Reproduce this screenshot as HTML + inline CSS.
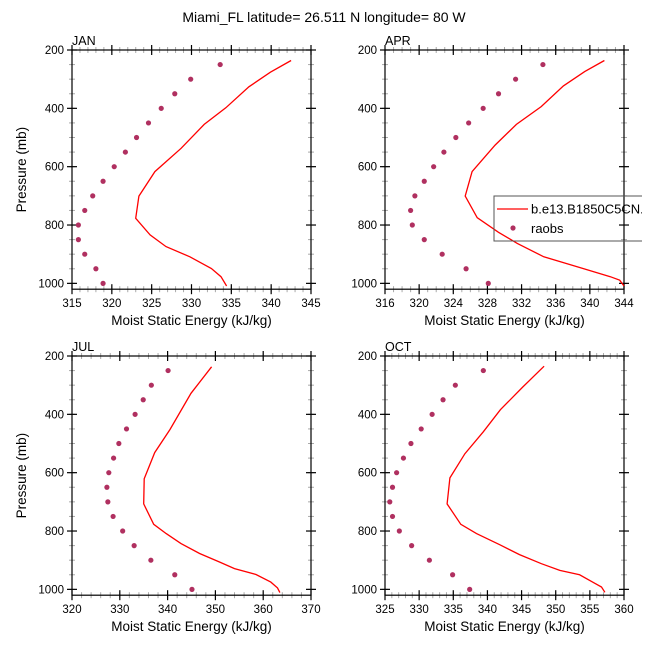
<!DOCTYPE html>
<html><head><meta charset="utf-8"><style>
html,body{margin:0;padding:0;background:#fff;}
svg{display:block;font-family:"Liberation Sans",Arial,sans-serif;}
</style></head><body>
<svg id="chart" width="648" height="648" viewBox="0 0 648 648">
<defs><clipPath id="lgclip"><rect x="490" y="190" width="152" height="60"/></clipPath></defs>
<text x="324" y="22" text-anchor="middle" font-size="14">Miami_FL  latitude= 26.511 N longitude= 80 W</text>
</svg>
<script>
// ---- data ----
const obsPressure = [250,300,350,400,450,500,550,600,650,700,750,800,850,900,950,1000];
const janObs = [333.6,329.9,327.9,326.2,324.6,323.1,321.7,320.3,318.9,317.6,316.6,315.8,315.8,316.6,318.0,318.9];
const aprObs = [334.5,331.3,329.3,327.5,325.8,324.3,322.9,321.7,320.6,319.5,319.0,319.2,320.6,322.7,325.5,328.1];
const julObs = [340.1,336.6,334.9,333.2,331.4,329.8,328.7,327.7,327.3,327.5,328.6,330.6,333.0,336.5,341.5,345.1];
const octObs = [339.4,335.3,333.5,331.9,330.3,328.8,327.7,326.7,326.1,325.7,326.1,327.1,328.9,331.5,334.9,337.4];
const janModP = [236,276,326,398,455,537,617,701,777,834,874,909,949,977,1009];
const janMod  = [342.5,339.9,337.2,334.3,331.6,328.7,325.4,323.4,323.0,324.8,326.8,329.8,332.5,333.7,334.4];
const aprModP = [236,274,323,394,455,526,617,701,775,825,863,909,949,977,989,1009];
const aprMod  = [341.7,339.4,336.9,334.3,331.4,328.9,326.2,325.4,326.8,329.3,331.5,334.6,339.2,342.4,343.5,344.0];
const julModP = [237,328,452,531,621,707,777,809,843,877,906,929,949,975,995,1011];
const julMod  = [349.2,344.9,340.5,337.3,335.1,335.0,337.1,339.7,342.8,346.7,350.8,354.0,358.5,361.6,363.0,363.5];
const octModP = [235,306,384,460,535,618,707,777,809,847,881,912,935,950,975,992,1010];
const octMod  = [348.3,345.2,341.9,339.4,336.7,334.5,334.1,336.1,338.4,341.8,344.7,347.9,350.6,353.5,355.4,356.7,357.2];
const janXTicks = [315,320,325,330,335,340,345];
const aprXTicks = [316,320,324,328,332,336,340,344];
const julXTicks = [320,330,340,350,360,370];
const octXTicks = [325,330,335,340,345,350,355,360];
const yTicks = [200,400,600,800,1000];
const legendLabels = ["b.e13.B1850C5CN.ra","raobs"];

const NS="http://www.w3.org/2000/svg";
const svg=document.getElementById('chart');
function mk(tag,attrs,parent){const e=document.createElementNS(NS,tag);for(const k in attrs)e.setAttribute(k,attrs[k]);(parent||svg).appendChild(e);return e;}

const panels=[
 {name:'jan',label:'JAN',x0:72,y0:50,xt:janXTicks,minor:1,obs:janObs,mp:janModP,mv:janMod,ytitle:true},
 {name:'apr',label:'APR',x0:385,y0:50,xt:aprXTicks,minor:1,obs:aprObs,mp:aprModP,mv:aprMod,ytitle:false},
 {name:'jul',label:'JUL',x0:72,y0:356,xt:julXTicks,minor:2,obs:julObs,mp:julModP,mv:julMod,ytitle:true},
 {name:'oct',label:'OCT',x0:385,y0:356,xt:octXTicks,minor:1,obs:octObs,mp:octModP,mv:octMod,ytitle:false}
];
const W=239, PY=0.2917;
panels.forEach(p=>{
  const g=mk('g',{});
  
  
  const xmin=p.xt[0], xmax=p.xt[p.xt.length-1];
  const xs=v=>p.x0+(v-xmin)/(xmax-xmin)*W;
  const ys=v=>p.y0+(v-200)*PY;
  const yb=ys(1020);
  for(let v=xmin;v<=xmax+1e-9;v+=p.minor){const x=xs(v);
    mk('line',{x1:x,y1:p.y0-3,x2:x,y2:p.y0+3,stroke:'#aaa','stroke-width':1},g);
    mk('line',{x1:x,y1:yb-3,x2:x,y2:yb+3,stroke:'#aaa','stroke-width':1},g);}
  for(let v=250;v<=1000;v+=50){const y=ys(v);
    mk('line',{x1:p.x0-3,y1:y,x2:p.x0+3,y2:y,stroke:'#aaa','stroke-width':1},g);
    mk('line',{x1:p.x0+W-3,y1:y,x2:p.x0+W+3,y2:y,stroke:'#aaa','stroke-width':1},g);}
  p.xt.forEach(v=>{const x=xs(v);
    mk('line',{x1:x,y1:p.y0-5,x2:x,y2:p.y0+5,stroke:'#000','stroke-width':1.2},g);
    mk('line',{x1:x,y1:yb-5,x2:x,y2:yb+5,stroke:'#000','stroke-width':1.2},g);
    const t=mk('text',{x:x,y:yb+18,'text-anchor':'middle','font-size':11.5},g);t.textContent=v;
    
    });
  yTicks.forEach(v=>{const y=ys(v);
    mk('line',{x1:p.x0-5,y1:y,x2:p.x0+5,y2:y,stroke:'#000','stroke-width':1.2},g);
    mk('line',{x1:p.x0+W-5,y1:y,x2:p.x0+W+5,y2:y,stroke:'#000','stroke-width':1.2},g);
    const t=mk('text',{x:p.x0-8,y:y+4,'text-anchor':'end','font-size':11.5},g);t.textContent=v;
    
    });
  const fr=mk('rect',{x:p.x0,y:p.y0,width:W,height:yb-p.y0,fill:'none',stroke:'#000','stroke-width':1.2},g);
  
  
  const lab=mk('text',{x:p.x0,y:p.y0-5,'font-size':12.5},g);lab.textContent=p.label;
  
  
  const xt=mk('text',{x:p.x0+W/2,y:yb+36,'text-anchor':'middle','font-size':13.5},g);xt.textContent='Moist Static Energy (kJ/kg)';
  
  
  if(p.ytitle){const cy=(p.y0+yb)/2;
    const yt=mk('text',{x:26,y:cy,'text-anchor':'middle','font-size':13.5,transform:`rotate(-90 26 ${cy})`},g);yt.textContent='Pressure (mb)';
    
    }
  const pts=p.mv.map((v,i)=>xs(v).toFixed(1)+','+ys(p.mp[i]).toFixed(1)).join(' ');
  const pl=mk('polyline',{points:pts,fill:'none',stroke:'#ff0000','stroke-width':1.3},g);
  
  
  p.obs.forEach((v,i)=>{const c=mk('circle',{cx:xs(v),cy:ys(obsPressure[i]),r:2.6,fill:'#b03060'},g);
    
    });
});
const lg=mk('g',{'clip-path':'url(#lgclip)'});


mk('rect',{x:494,y:196,width:160,height:45,fill:'none',stroke:'#555','stroke-width':1},lg);
mk('line',{x1:497,y1:209,x2:528,y2:209,stroke:'#ff0000','stroke-width':1.3},lg);
const l1=mk('text',{x:531,y:213.5,'font-size':13},lg);l1.textContent=legendLabels[0];


mk('circle',{cx:513,cy:228,r:2.6,fill:'#b03060'},lg);
const l2=mk('text',{x:531,y:233,'font-size':13},lg);l2.textContent=legendLabels[1];


</script>
</body></html>
